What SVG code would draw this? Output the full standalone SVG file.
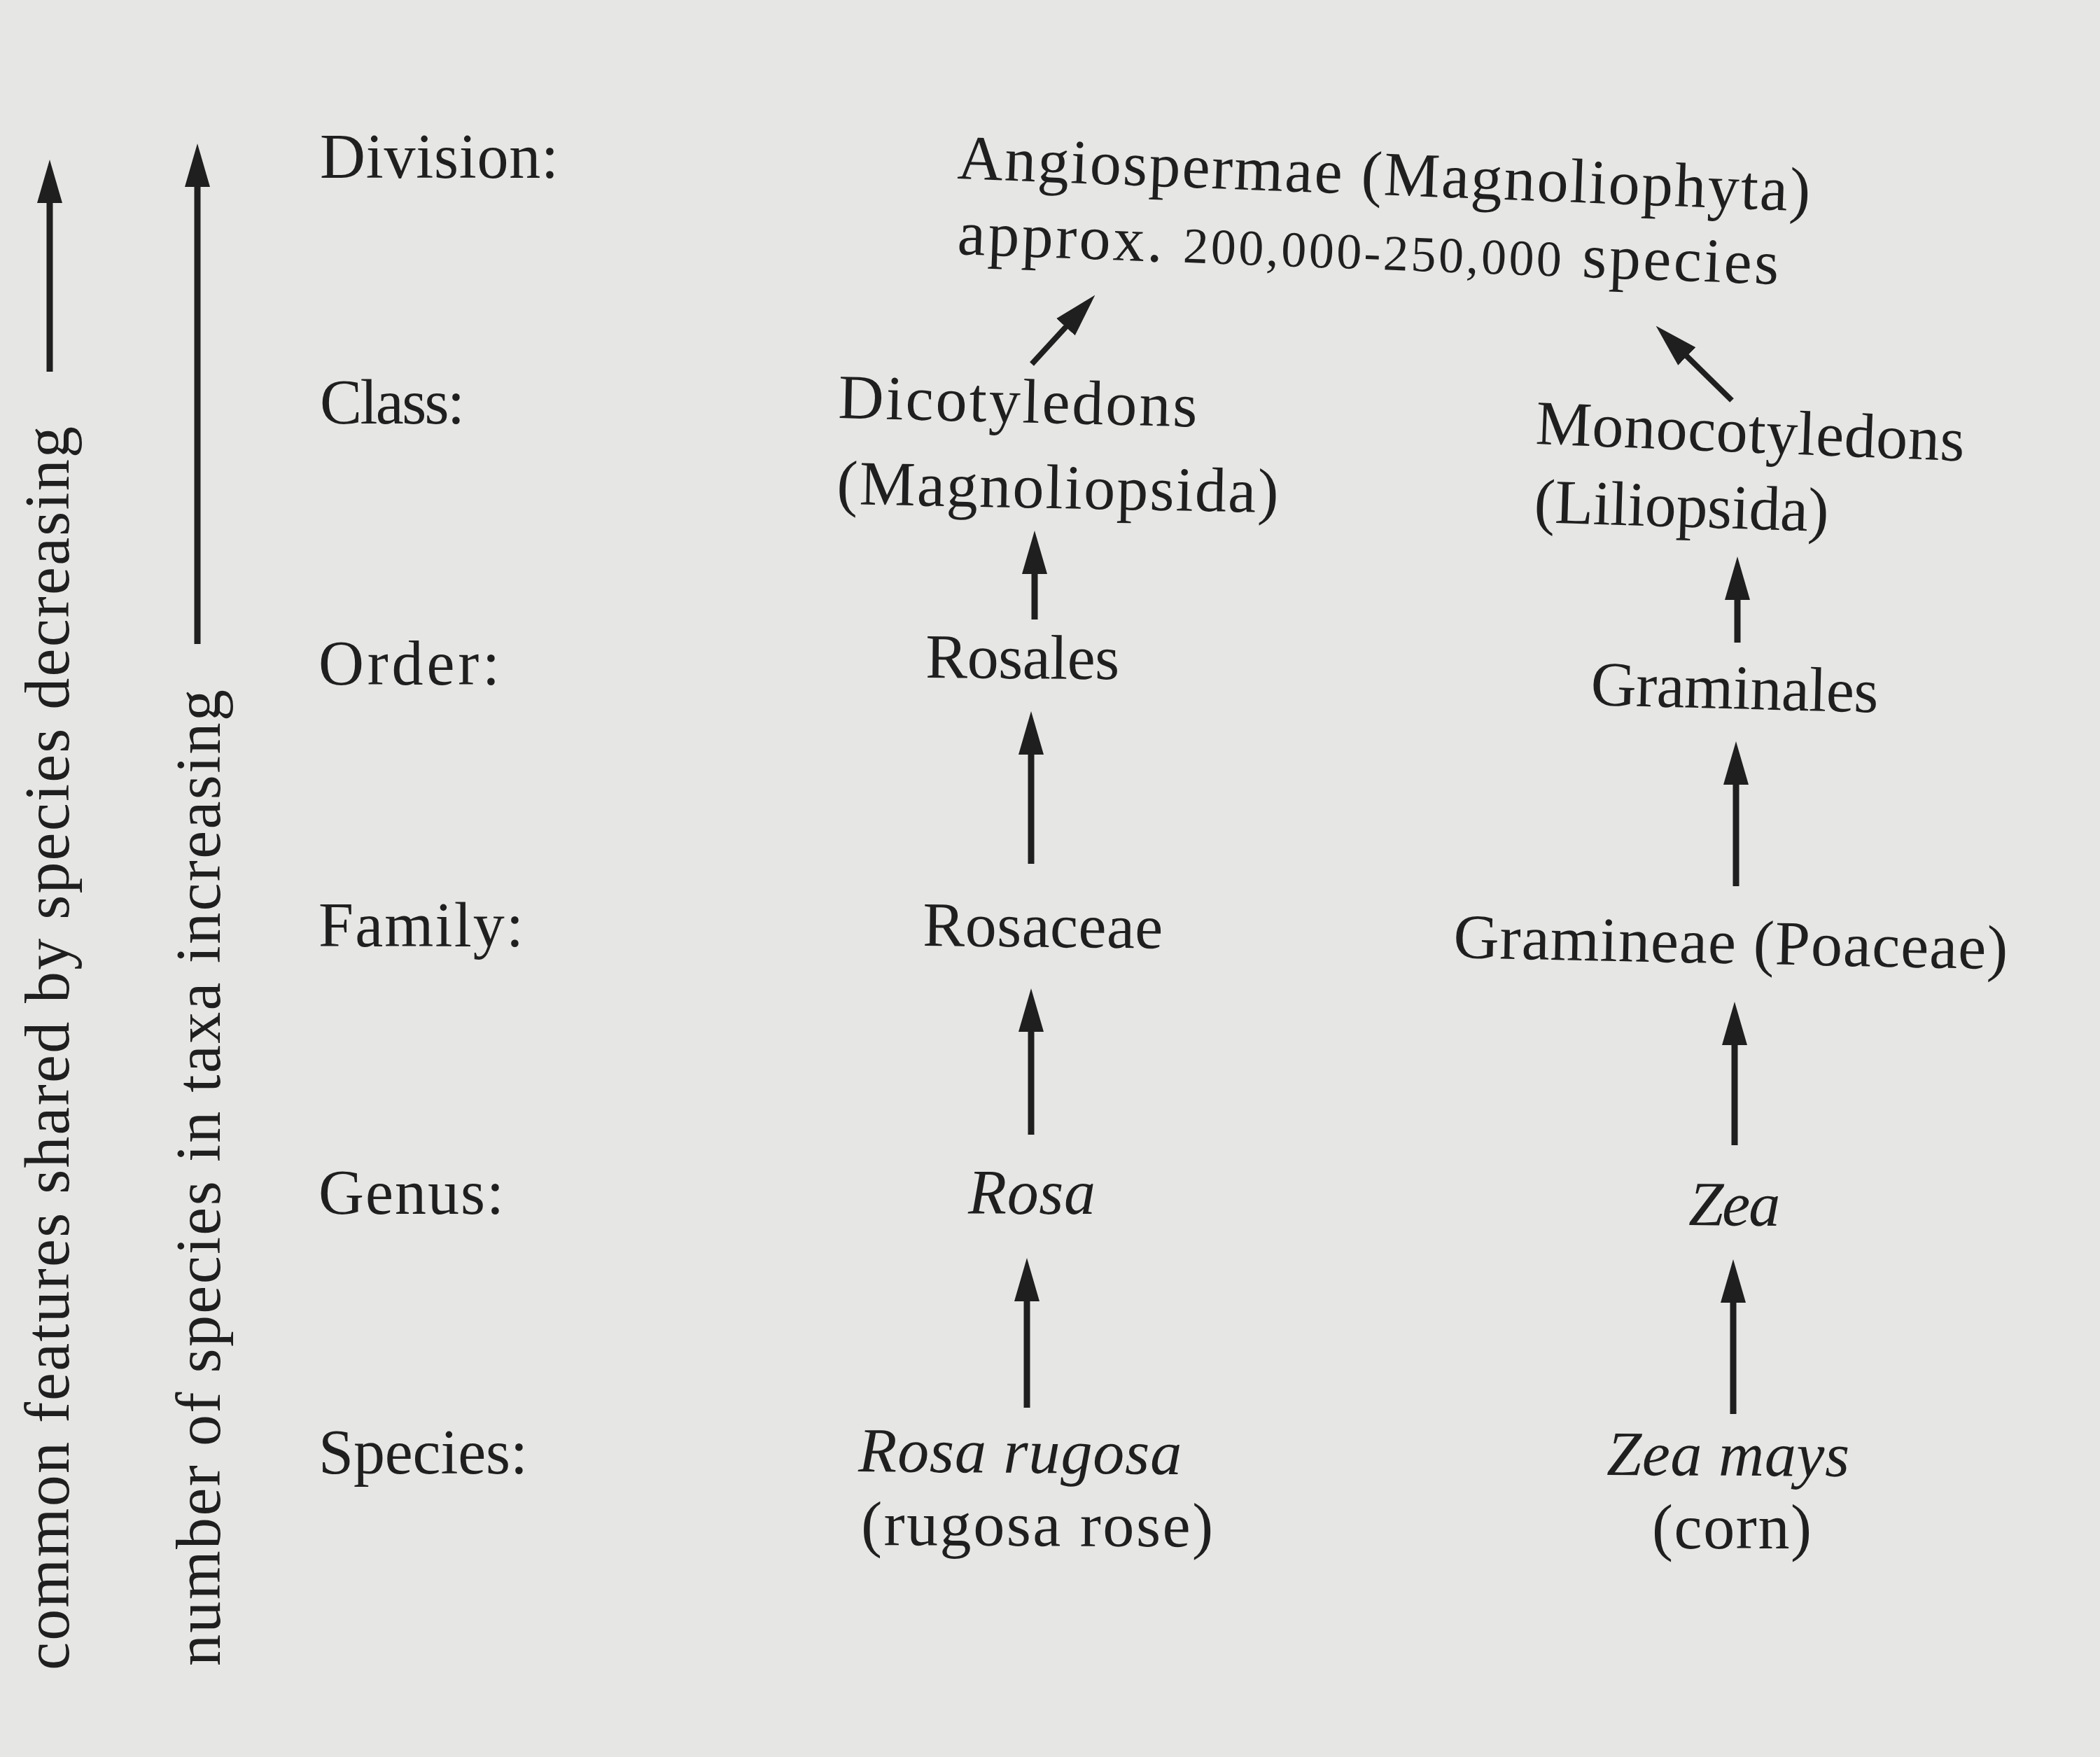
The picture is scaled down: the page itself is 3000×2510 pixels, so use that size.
<svg xmlns="http://www.w3.org/2000/svg" width="3000" height="2510" viewBox="0 0 3000 2510">
<defs>
<style>
text{font-family:"Liberation Serif","Times New Roman",serif;font-size:90px;fill:#1f1f1f}
.it{font-style:italic}
.num{font-size:72px}
.conn line{stroke:#1f1f1f;stroke-width:9;marker-end:url(#ah)}
</style>
<marker id="ah" markerUnits="userSpaceOnUse" markerWidth="62" markerHeight="38" viewBox="0 0 62 38" refX="40" refY="19" orient="auto">
<path d="M0,1 L62,19 L0,37 Z" fill="#1f1f1f"/>
</marker>
</defs>
<rect width="3000" height="2510" fill="#e6e6e4"/>

<g id="axis-common">
<text transform="translate(98,2386) rotate(-90)" textLength="1777">common features shared by species decreasing</text>
</g>
<g id="axis-number">
<text transform="translate(314,2380) rotate(-90)" textLength="1395">number of species in taxa increasing</text>
</g>

<g id="rank-division"><text x="457" y="254" textLength="341">Division:</text></g>
<g id="rank-class"><text x="457" y="605" textLength="207">Class:</text></g>
<g id="rank-order"><text x="455" y="978" textLength="259">Order:</text></g>
<g id="rank-family"><text x="455" y="1352" textLength="293">Family:</text></g>
<g id="rank-genus"><text x="455" y="1734" textLength="265">Genus:</text></g>
<g id="rank-species"><text x="455" y="2105" textLength="299">Species:</text></g>

<g id="node-angiospermae">
<text transform="translate(1367,255) rotate(2.2)" textLength="1219">Angiospermae (Magnoliophyta)</text>
<text transform="translate(1367,363) rotate(2.1)" textLength="1174">approx. <tspan class="num">200,000-250,000</tspan> species</text>
</g>

<g id="node-dicotyledons">
<text transform="translate(1197,597) rotate(1.4)" textLength="513">Dicotyledons</text>
<text transform="translate(1195,720) rotate(1.1)" textLength="631">(Magnoliopsida)</text>
</g>
<g id="node-rosales"><text transform="translate(1322,968) rotate(0.5)" textLength="277">Rosales</text></g>
<g id="node-rosaceae"><text transform="translate(1318,1351) rotate(0.6)" textLength="343">Rosaceae</text></g>
<g id="node-rosa"><text class="it" x="1383" y="1734" textLength="182">Rosa</text></g>
<g id="node-rosa-rugosa">
<text class="it" transform="translate(1226,2102) rotate(0.5)" textLength="462">Rosa rugosa</text>
<text transform="translate(1230,2207) rotate(0.3)" textLength="503">(rugosa rose)</text>
</g>

<g id="node-monocotyledons">
<text transform="translate(2193,634) rotate(2.3)" textLength="613">Monocotyledons</text>
<text transform="translate(2191,746) rotate(1.8)" textLength="421">(Liliopsida)</text>
</g>
<g id="node-graminales"><text transform="translate(2272,1007) rotate(1.5)" textLength="411">Graminales</text></g>
<g id="node-gramineae"><text transform="translate(2076,1368) rotate(1.2)" textLength="792">Gramineae (Poaceae)</text></g>
<g id="node-zea"><text class="it" transform="translate(2412,1750) rotate(0.5)" textLength="131">Zea</text></g>
<g id="node-zea-mays">
<text class="it" transform="translate(2295,2107) rotate(0.3)" textLength="347">Zea mays</text>
<text x="2360" y="2212" textLength="228">(corn)</text>
</g>

<g id="connectors" class="conn">
<line x1="71" y1="531" x2="71" y2="250"/>
<line x1="282" y1="920" x2="282" y2="227"/>
<line x1="1474" y1="520" x2="1549.5" y2="437.7" style="stroke-width:8"/>
<line x1="2474" y1="572" x2="2381.3" y2="481" style="stroke-width:8"/>
<line x1="1478" y1="885" x2="1478" y2="780"/>
<line x1="1473" y1="1234" x2="1473" y2="1038"/>
<line x1="1473" y1="1621" x2="1473" y2="1434"/>
<line x1="1467" y1="2011" x2="1467" y2="1819"/>
<line x1="2482" y1="918" x2="2482" y2="817"/>
<line x1="2480" y1="1266" x2="2480" y2="1081"/>
<line x1="2478" y1="1636" x2="2478" y2="1453"/>
<line x1="2476" y1="2020" x2="2476" y2="1821"/>
</g>
</svg>
